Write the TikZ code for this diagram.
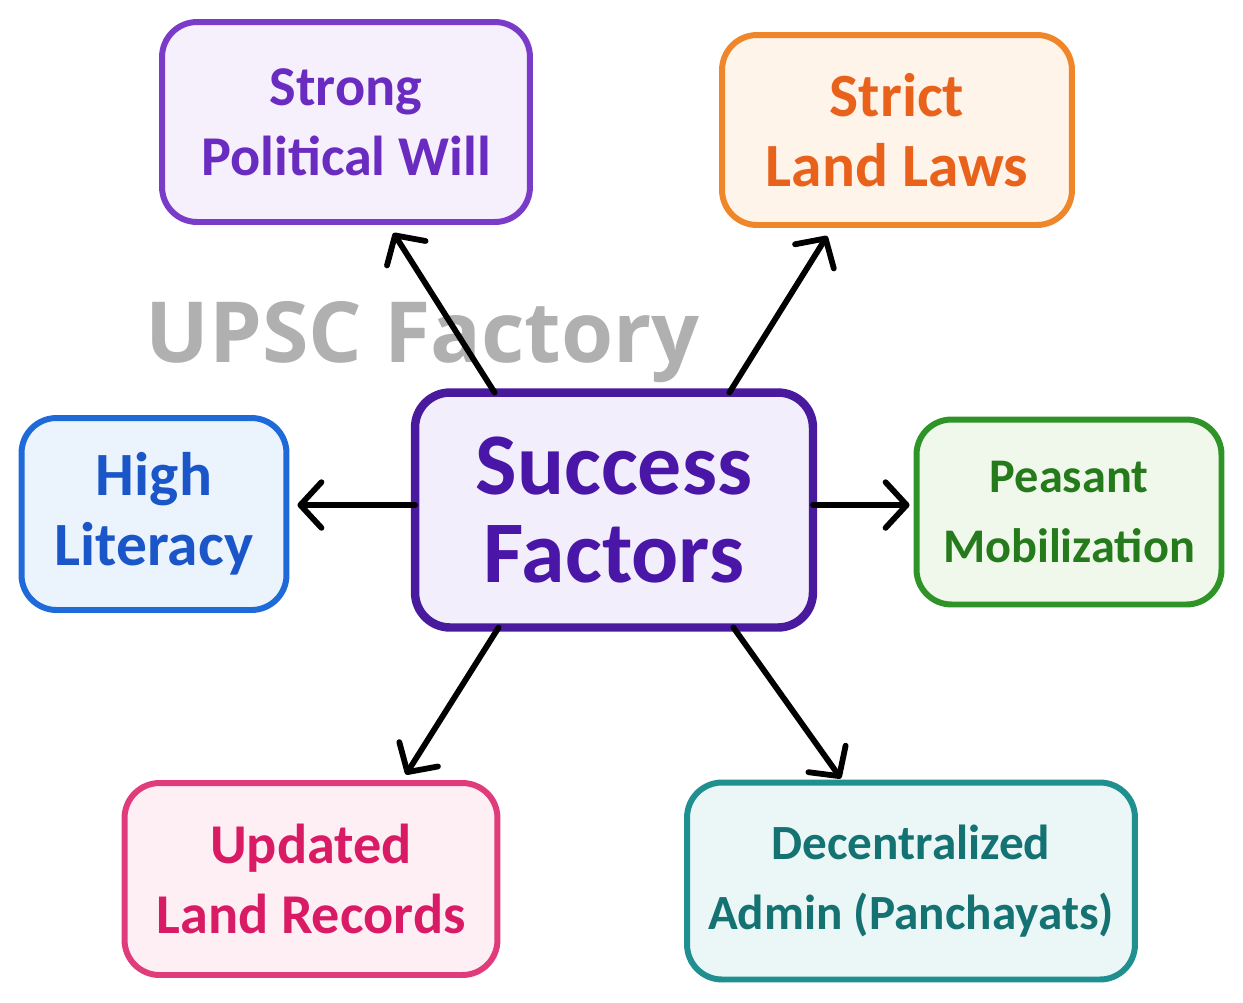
\documentclass[tikz,border=0pt]{standalone}
\usepackage{fontspec}
\setmainfont{Carlito}
\newfontfamily\markfont{Open Sans}
\usetikzlibrary{arrows.meta,calc}

% colours of the boxes
\definecolor{hubline}{HTML}{4A1A9E}
\definecolor{hubfill}{HTML}{F2EEFB}
\definecolor{hubtext}{HTML}{4A16A8}
\definecolor{willline}{HTML}{7A3CC8}
\definecolor{willfill}{HTML}{F5F0FC}
\definecolor{willtext}{HTML}{6A2BC0}
\definecolor{lawline}{HTML}{F0862A}
\definecolor{lawfill}{HTML}{FFF4EA}
\definecolor{lawtext}{HTML}{E8621C}
\definecolor{litline}{HTML}{1E6AD8}
\definecolor{litfill}{HTML}{EBF3FD}
\definecolor{littext}{HTML}{1A56C8}
\definecolor{mobline}{HTML}{2F9428}
\definecolor{mobfill}{HTML}{EFF8EA}
\definecolor{mobtext}{HTML}{257A1C}
\definecolor{recline}{HTML}{E03C7C}
\definecolor{recfill}{HTML}{FDEFF4}
\definecolor{rectext}{HTML}{D81B64}
\definecolor{panline}{HTML}{1F8F8F}
\definecolor{panfill}{HTML}{EBF7F7}
\definecolor{pantext}{HTML}{147272}
\definecolor{markgray}{HTML}{B0B0B0}

\newcommand{\boxfont}[1]{\bfseries\fontsize{#1}{40}\selectfont}

\tikzset{
  factor/.style n args={3}{draw=#1, fill=#2, text=#3, line width=3.4pt,
    rounded corners=0.7cm, inner sep=0pt, outer sep=0pt, align=center,
    font=\boxfont{33}},
  link/.style={-{Straight Barb[length=12pt,width=26pt,round]}, line width=3.3pt,
    line cap=round, black}
}

\begin{document}
\begin{tikzpicture}[x=0.02cm, y=-0.02cm]
  \useasboundingbox (0,0) rectangle (1243,1002);
  % watermark behind the arrows
  \node[text=markgray, font=\markfont\bfseries\fontsize{48}{48}\selectfont,
    anchor=base west, inner sep=0pt] (mark) at (145,362) {UPSC Factory};

  \node[factor={hubline}{hubfill}{hubtext}, line width=4.8pt, minimum width=7.96cm,
    minimum height=4.7cm, font={\bfseries\fontsize{50}{50}\selectfont}] (hub) at (614,510) {Success\\Factors};
  \node[factor={willline}{willfill}{willtext}, minimum width=7.36cm, minimum height=4cm, font=\boxfont{32}] (will) at (346,122) {Strong\\Political Will};
  \node[factor={lawline}{lawfill}{lawtext}, minimum width=7cm, minimum height=3.8cm, font=\boxfont{35}] (law) at (897,130) {Strict\\Land Laws};
  \node[factor={litline}{litfill}{littext}, minimum width=5.3cm, minimum height=3.84cm, font=\boxfont{35}] (lit) at (154,514) {High\\Literacy};
  \node[factor={mobline}{mobfill}{mobtext}, minimum width=6.1cm, minimum height=3.7cm, font=\boxfont{27.5}] (mob) at (1069,512) {Peasant\\Mobilization};
  \node[factor={recline}{recfill}{rectext}, minimum width=7.46cm, minimum height=3.84cm, font=\boxfont{32}] (rec) at (311,879) {Updated\\Land Records};
  \node[factor={panline}{panfill}{pantext}, minimum width=8.96cm, minimum height=3.94cm, font=\boxfont{28}] (pan) at (911,881) {Decentralized\\Admin (Panchayats)};

  \draw[link, shorten >=0.26cm] ($(hub.north west)!0.2!(hub.north east)$) -- ($(will.south west)!0.61!(will.south east)$);
  \draw[link, shorten >=0.26cm] ($(hub.north west)!0.79!(hub.north east)$) -- ($(law.south west)!0.32!(law.south east)$);
  \draw[link, shorten >=0.22cm] ([yshift=0.1cm]hub.west) -- ([yshift=0.1cm]hub.west -| lit.east);
  \draw[link, shorten >=0.14cm] ([yshift=0.1cm]hub.east) -- ([yshift=0.1cm]hub.east -| mob.west);
  \draw[link, shorten >=0.2cm] ($(hub.south west)!0.21!(hub.south east)$) -- ($(rec.north west)!0.74!(rec.north east)$);
  \draw[link, shorten >=0.1cm] ($(hub.south west)!0.8!(hub.south east)$) -- ($(pan.north west)!0.35!(pan.north east)$);
\end{tikzpicture}
\end{document}
